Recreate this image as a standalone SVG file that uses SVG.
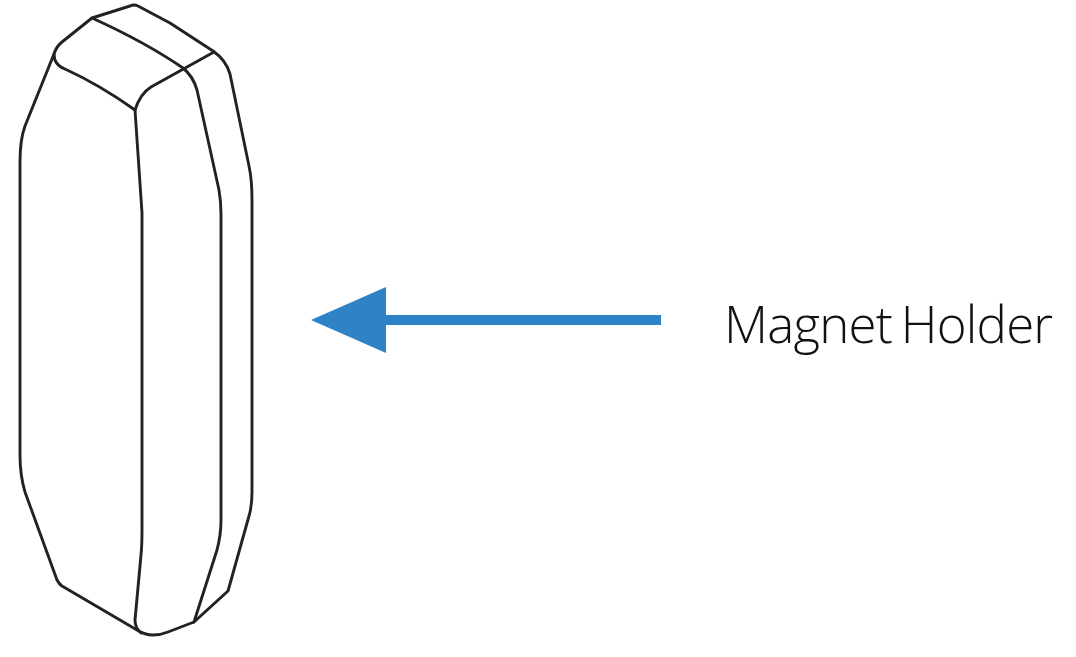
<svg xmlns="http://www.w3.org/2000/svg" width="1076" height="657" viewBox="0 0 1076 657">
<style>
.l{fill:none;stroke:#222;stroke-width:2.9;stroke-linejoin:round;stroke-linecap:round}
.a{fill:#2e82c6}
.t{font-family:"Open Sans","Noto Sans",sans-serif;font-weight:300;font-size:51px;letter-spacing:-.8px;word-spacing:-3.5px;fill:#111}
</style>
<rect width="1076" height="657" fill="#fff"/>
<g id="magnet-holder">
<path class="l" d="M54 54L25 126C21 137 20 150 20 162V455C20 470 22 482 25 492L57 580Q59 584 62 586L137 630Q145 635 153 635Q161 635 168 632L194 622L228 591L249 516Q252 506 252 492V200Q252 180 249 166L230 74Q226 60 213 51L170 23L138 6Q134 4 130 6L92 18L62 42Q56 47 54 54Z"/>
<path class="l" d="M54 54Q54 65 65 69Q100 85 135 110"/>
<path class="l" d="M135 110Q140 94 151 87L214 52"/>
<path class="l" d="M92 18Q145 42 183 68Q193 76 197 90L219 190Q221 202 221 214V520Q221 535 217 550L194 622"/>
<path class="l" d="M135 110L142 213V530Q142 545 141 555L135 620Q135 628 141 633"/>
</g>
<g id="connectors">
<rect class="a" x="380" y="315" width="281" height="10"/>
<polygon class="a" points="311,320 386,287 386,353"/>
</g>
<g id="label">
<text class="t" x="724" y="343">Magnet Holder</text>
</g>
</svg>
